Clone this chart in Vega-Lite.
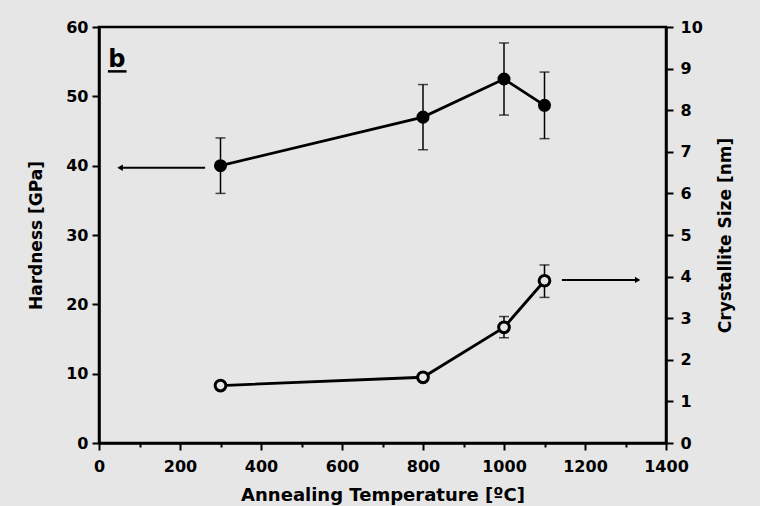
{
  "$schema": "https://vega.github.io/schema/vega-lite/v6.json",
  "width": 567,
  "height": 416,
  "autosize": {"type": "none"},
  "padding": {"left": 99, "top": 27, "right": 94, "bottom": 63},
  "background": "#e6e6e6",
  "config": {
    "view": {"stroke": "black", "strokeWidth": 2.5},
    "font": "DejaVu Sans",
    "axis": {
      "domainColor": "black", "domainWidth": 2.5,
      "tickColor": "black", "tickWidth": 2,
      "labelFont": "DejaVu Sans", "labelFontWeight": "bold", "labelFontSize": 16, "labelColor": "black",
      "titleFont": "DejaVu Sans", "titleFontWeight": "bold", "titleFontSize": 17, "titleColor": "black",
      "grid": false, "labelFlush": false
    }
  },
  "datasets": {
    "hardness": [
      {"T": 300, "H": 40.0, "lo": 36.0, "hi": 44.0},
      {"T": 800, "H": 47.0, "lo": 42.3, "hi": 51.7},
      {"T": 1000, "H": 52.5, "lo": 47.3, "hi": 57.7},
      {"T": 1100, "H": 48.7, "lo": 43.9, "hi": 53.5}
    ],
    "crystal": [
      {"T": 300, "S": 1.38},
      {"T": 800, "S": 1.58},
      {"T": 1000, "S": 2.78},
      {"T": 1100, "S": 3.9}
    ],
    "crystalErr": [
      {"T": 1000, "lo": 2.53, "hi": 3.04},
      {"T": 1100, "lo": 3.5, "hi": 4.28}
    ],
    "arrowL": [{"x1": 52, "x2": 262, "y": 39.7}],
    "arrowR": [{"x1": 1143, "x2": 1330, "y": 3.92}],
    "label": [{"x": 44, "y": 54.3, "text": "b", "u1": 22, "u2": 68, "uy": 53.6}]
  },
  "layer": [
    {
      "layer": [
        {
          "data": {"name": "hardness"},
          "mark": {"type": "line", "color": "black", "strokeWidth": 2.8},
          "encoding": {
            "x": {
              "field": "T", "type": "quantitative",
              "scale": {"domain": [0, 1400], "nice": false},
              "axis": {
                "title": "Annealing Temperature [ºC]", "titleFontSize": 18, "titlePadding": 12,
                "values": [0,100,200,300,400,500,600,700,800,900,1000,1100,1200,1300,1400],
                "labelExpr": "datum.value % 200 == 0 ? datum.label : ''",
                "format": "d",
                "tickSize": {"condition": {"test": "datum.value % 200 != 0", "value": 4}, "value": 7},
                "labelPadding": 8
              }
            },
            "y": {
              "field": "H", "type": "quantitative",
              "scale": {"domain": [0, 60], "nice": false},
              "axis": {
                "title": "Hardness [GPa]", "titlePadding": 20,
                "values": [0,5,10,15,20,25,30,35,40,45,50,55,60],
                "labelExpr": "datum.value % 10 == 0 ? datum.label : ''",
                "tickSize": {"condition": {"test": "datum.value % 10 != 0", "value": 4}, "value": 7},
                "labelPadding": 4
              }
            }
          }
        },
        {
          "data": {"name": "hardness"},
          "mark": {"type": "rule", "color": "black", "strokeWidth": 1.5},
          "encoding": {
            "x": {"field": "T", "type": "quantitative"},
            "y": {"field": "lo", "type": "quantitative"},
            "y2": {"field": "hi"}
          }
        },
        {
          "data": {"name": "hardness"},
          "mark": {"type": "tick", "orient": "horizontal", "size": 10, "thickness": 1.5, "color": "black"},
          "encoding": {
            "x": {"field": "T", "type": "quantitative"},
            "y": {"field": "lo", "type": "quantitative"}
          }
        },
        {
          "data": {"name": "hardness"},
          "mark": {"type": "tick", "orient": "horizontal", "size": 10, "thickness": 1.5, "color": "black"},
          "encoding": {
            "x": {"field": "T", "type": "quantitative"},
            "y": {"field": "hi", "type": "quantitative"}
          }
        },
        {
          "data": {"name": "hardness"},
          "mark": {"type": "point", "shape": "circle", "filled": true, "color": "black", "size": 170, "opacity": 1},
          "encoding": {
            "x": {"field": "T", "type": "quantitative"},
            "y": {"field": "H", "type": "quantitative"}
          }
        },
        {
          "data": {"name": "arrowL"},
          "mark": {"type": "rule", "color": "black", "strokeWidth": 2},
          "encoding": {
            "x": {"field": "x1", "type": "quantitative"},
            "x2": {"field": "x2"},
            "y": {"field": "y", "type": "quantitative"}
          }
        },
        {
          "data": {"name": "arrowL"},
          "mark": {"type": "point", "shape": "triangle-left", "filled": true, "color": "black", "size": 40, "opacity": 1},
          "encoding": {
            "x": {"field": "x1", "type": "quantitative"},
            "y": {"field": "y", "type": "quantitative"}
          }
        },
        {
          "data": {"name": "label"},
          "mark": {"type": "text", "font": "DejaVu Sans", "fontWeight": "bold", "fontSize": 24, "color": "black", "baseline": "alphabetic", "align": "center"},
          "encoding": {
            "x": {"field": "x", "type": "quantitative"},
            "y": {"field": "y", "type": "quantitative"},
            "text": {"field": "text"}
          }
        },
        {
          "data": {"name": "label"},
          "mark": {"type": "rule", "color": "black", "strokeWidth": 2.5},
          "encoding": {
            "x": {"field": "u1", "type": "quantitative"},
            "x2": {"field": "u2"},
            "y": {"field": "uy", "type": "quantitative"}
          }
        }
      ]
    },
    {
      "layer": [
        {
          "data": {"name": "crystal"},
          "mark": {"type": "line", "color": "black", "strokeWidth": 2.8},
          "encoding": {
            "x": {"field": "T", "type": "quantitative"},
            "y": {
              "field": "S", "type": "quantitative",
              "scale": {"domain": [0, 10], "nice": false},
              "axis": {
                "orient": "right",
                "title": "Crystallite Size [nm]", "titleAngle": 270, "titlePadding": 32,
                "values": [0,0.5,1,1.5,2,2.5,3,3.5,4,4.5,5,5.5,6,6.5,7,7.5,8,8.5,9,9.5,10],
                "labelExpr": "datum.value % 1 == 0 ? datum.label : ''",
                "tickSize": {"condition": {"test": "datum.value % 1 != 0", "value": 4}, "value": 7},
                "labelPadding": 7
              }
            }
          }
        },
        {
          "data": {"name": "crystalErr"},
          "mark": {"type": "rule", "color": "black", "strokeWidth": 1.5},
          "encoding": {
            "x": {"field": "T", "type": "quantitative"},
            "y": {"field": "lo", "type": "quantitative"},
            "y2": {"field": "hi"}
          }
        },
        {
          "data": {"name": "crystalErr"},
          "mark": {"type": "tick", "orient": "horizontal", "size": 10, "thickness": 1.5, "color": "black"},
          "encoding": {
            "x": {"field": "T", "type": "quantitative"},
            "y": {"field": "lo", "type": "quantitative"}
          }
        },
        {
          "data": {"name": "crystalErr"},
          "mark": {"type": "tick", "orient": "horizontal", "size": 10, "thickness": 1.5, "color": "black"},
          "encoding": {
            "x": {"field": "T", "type": "quantitative"},
            "y": {"field": "hi", "type": "quantitative"}
          }
        },
        {
          "data": {"name": "crystal"},
          "mark": {"type": "point", "shape": "circle", "filled": true, "fill": "#e6e6e6", "stroke": "black", "strokeWidth": 3, "size": 115, "opacity": 1},
          "encoding": {
            "x": {"field": "T", "type": "quantitative"},
            "y": {"field": "S", "type": "quantitative"}
          }
        },
        {
          "data": {"name": "arrowR"},
          "mark": {"type": "rule", "color": "black", "strokeWidth": 2},
          "encoding": {
            "x": {"field": "x1", "type": "quantitative"},
            "x2": {"field": "x2"},
            "y": {"field": "y", "type": "quantitative"}
          }
        },
        {
          "data": {"name": "arrowR"},
          "mark": {"type": "point", "shape": "triangle-right", "filled": true, "color": "black", "size": 40, "opacity": 1},
          "encoding": {
            "x": {"field": "x2", "type": "quantitative"},
            "y": {"field": "y", "type": "quantitative"}
          }
        }
      ]
    }
  ],
  "resolve": {"scale": {"y": "independent"}}
}
